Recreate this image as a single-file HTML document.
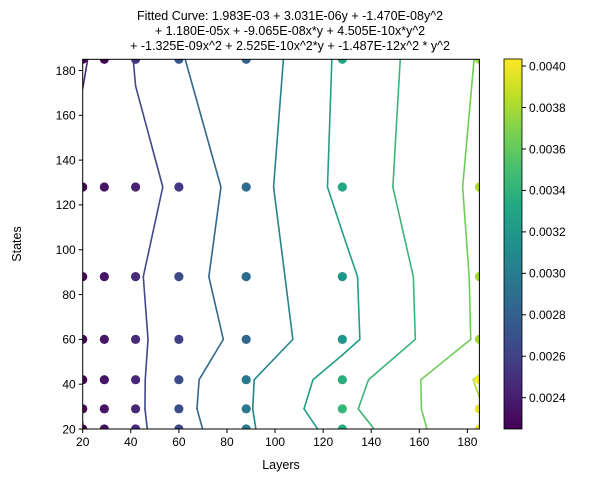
<!DOCTYPE html>
<html><head><meta charset="utf-8"><style>
body{margin:0;background:#fff;}
svg{font-family:"Liberation Sans","DejaVu Sans",sans-serif;}
</style></head><body>
<svg id="chart" width="590" height="482" xmlns="http://www.w3.org/2000/svg">
<g font-size="12.5" text-anchor="middle" fill="#000">
<text x="290" y="20">Fitted Curve: 1.983E-03 + 3.031E-06y + -1.470E-08y^2</text>
<text x="290" y="35">+ 1.180E-05x + -9.065E-08x*y + 4.505E-10x*y^2</text>
<text x="290" y="50">+ -1.325E-09x^2 + 2.525E-10x^2*y + -1.487E-12x^2 * y^2</text>
</g>
<g id="plot"></g>
<g id="cbar"></g>
<text x="281" y="469" font-size="12.5" text-anchor="middle">Layers</text>
<text transform="translate(21,244) rotate(-90)" font-size="12.5" text-anchor="middle">States</text>
</svg>
<script>
const xGrid = [20, 29, 42, 60, 88, 128, 185];
const yGrid = [20, 29, 42, 60, 88, 128, 185];
// zValues[row by y][col by x], units of 1e-3
const zValues = [
 [2.249, 2.330, 2.450, 2.635, 2.961, 3.350, 3.998],
 [2.252, 2.335, 2.453, 2.670, 2.968, 3.437, 3.980],
 [2.258, 2.340, 2.455, 2.657, 2.966, 3.375, 4.030],
 [2.270, 2.355, 2.469, 2.577, 2.839, 3.171, 3.789],
 [2.285, 2.360, 2.468, 2.648, 2.877, 3.182, 3.796],
 [2.260, 2.340, 2.424, 2.545, 2.873, 3.319, 3.810],
 [2.247, 2.260, 2.520, 2.744, 2.808, 3.304, 3.768]
];
const contourLevels = [2.25, 2.5, 2.75, 3.0, 3.25, 3.5, 3.75, 4.0];
const xTicks = [20, 40, 60, 80, 100, 120, 140, 160, 180];
const yTicks = [20, 40, 60, 80, 100, 120, 140, 160, 180];
const cbarTicks = ["0.0024","0.0026","0.0028","0.0030","0.0032","0.0034","0.0036","0.0038","0.0040"];

const NS="http://www.w3.org/2000/svg";
const L=82.7,R=479.4,T=59.3,B=429;
const xMin=20,xMax=185,yMin=20,yMax=185;
const sx=v=>L+(v-xMin)/(xMax-xMin)*(R-L);
const sy=v=>B-(v-yMin)/(yMax-yMin)*(B-T);
const vir=[[68,1,84],[72,35,116],[64,67,135],[52,94,141],[41,120,142],[32,144,140],[34,167,132],[68,190,112],[121,209,81],[189,222,38],[253,231,37]];
function cmap(t){t=Math.max(0,Math.min(1,t));const f=t*10,i=Math.min(9,Math.floor(f)),r=f-i;
 const c=vir[i].map((a,k)=>Math.round(a+(vir[i+1][k]-a)*r));return `rgb(${c[0]},${c[1]},${c[2]})`;}
const zLo=2.247,zHi=4.034;
function mk(tag,attrs,parent){const e=document.createElementNS(NS,tag);for(const k in attrs)e.setAttribute(k,attrs[k]);parent.appendChild(e);return e;}
const plot=document.getElementById('plot');
const clip=mk('clipPath',{id:'pc'},plot);mk('rect',{x:L,y:T,width:R-L,height:B-T},clip);
const content=mk('g',{'clip-path':'url(#pc)'},plot);

// contours (marching squares)
contourLevels.forEach((lev,li)=>{
 const col=cmap((lev-2.0)/2.25);
 for(let j=0;j<yGrid.length-1;j++)for(let i=0;i<xGrid.length-1;i++){
  const c=[[xGrid[i],yGrid[j],zValues[j][i]],[xGrid[i+1],yGrid[j],zValues[j][i+1]],[xGrid[i+1],yGrid[j+1],zValues[j+1][i+1]],[xGrid[i],yGrid[j+1],zValues[j+1][i]]];
  const pts=[];
  for(let k=0;k<4;k++){const a=c[k],b=c[(k+1)%4];
   if((a[2]-lev)*(b[2]-lev)<0){const t=(lev-a[2])/(b[2]-a[2]);pts.push([a[0]+t*(b[0]-a[0]),a[1]+t*(b[1]-a[1])]);}}
  for(let p=0;p+1<pts.length;p+=2){
   const ln=mk('line',{x1:sx(pts[p][0]),y1:sy(pts[p][1]),x2:sx(pts[p+1][0]),y2:sy(pts[p+1][1]),stroke:col,'stroke-width':1.6,'stroke-linecap':'round'},content);
   
   
  }
 }
});
// scatter points
yGrid.forEach((yv,j)=>xGrid.forEach((xv,i)=>{
 const d=mk('circle',{cx:sx(xv),cy:sy(yv),r:4.6,fill:cmap((zValues[j][i]-zLo)/(zHi-zLo))},content);
 
 
}));
mk('rect',{x:L,y:T,width:R-L,height:B-T,fill:'none',stroke:'#000','stroke-width':1},plot);
xTicks.forEach(v=>{const x=sx(v);
 mk('line',{x1:x,y1:B,x2:x,y2:B+4,stroke:'#000'},plot);
 const t=mk('text',{x:x,y:B+17,'font-size':12,'text-anchor':'middle'},plot);t.textContent=v;
 
 });
yTicks.forEach(v=>{const y=sy(v);
 mk('line',{x1:L-4,y1:y,x2:L,y2:y,stroke:'#000'},plot);
 const t=mk('text',{x:L-7,y:y+4.3,'font-size':12,'text-anchor':'end'},plot);t.textContent=v;
 
 });

// colorbar
const cb=document.getElementById('cbar');
const CL=504,CR=522,CT=59,CB=429,cvLo=0.002249,cvHi=0.004034;
const defs=mk('defs',{},cb);const g=mk('linearGradient',{id:'vg',x1:0,y1:1,x2:0,y2:0},defs);
for(let k=0;k<=20;k++)mk('stop',{offset:k/20,'stop-color':cmap(k/20)},g);
mk('rect',{x:CL,y:CT,width:CR-CL,height:CB-CT,fill:'url(#vg)',stroke:'#000','stroke-width':0.8},cb);
cbarTicks.forEach(s=>{const v=parseFloat(s);const y=CB-(v-cvLo)/(cvHi-cvLo)*(CB-CT);
 mk('line',{x1:CR,y1:y,x2:CR+4,y2:y,stroke:'#000'},cb);
 const t=mk('text',{x:CR+7,y:y+4.3,'font-size':12},cb);t.textContent=s;
 
 });
</script>
</body></html>
